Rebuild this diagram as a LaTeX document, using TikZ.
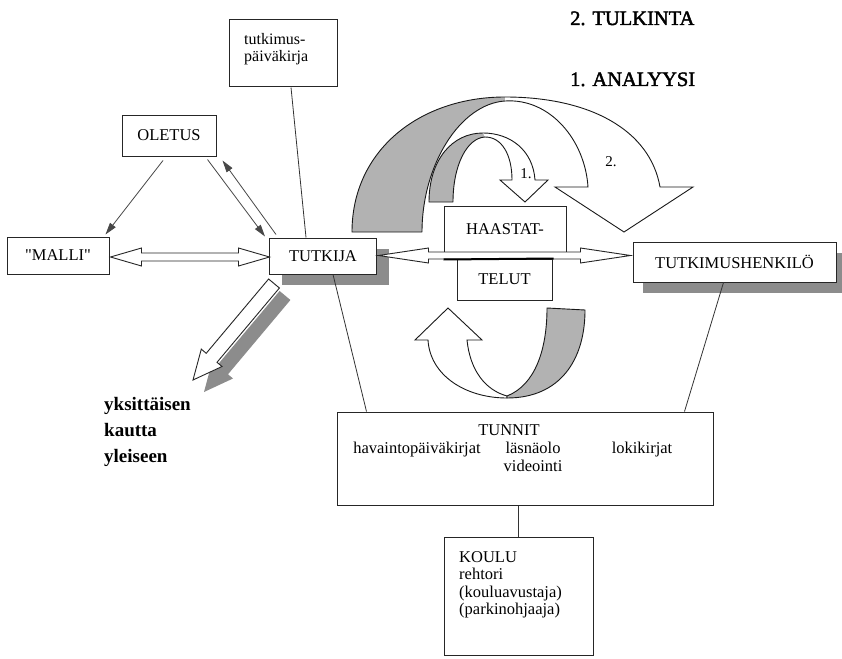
\documentclass[tikz,border=0pt]{standalone}
\usepackage{fontspec}
\setmainfont{Liberation Serif}
\newfontfamily\headfont[FakeBold=2]{Liberation Serif}
\newfontfamily\quotefont{Liberation Serif}
\usetikzlibrary{calc,arrows.meta,shadows}

\begin{document}
\begin{tikzpicture}[x=1pt,y=-1pt,
  every node/.style={inner sep=0pt, font=\fontsize{16.5}{19}\selectfont},
  box/.style={draw=black!85, line width=1pt, fill=white},
  boxshadow/.style={drop shadow={shadow xshift=#1, shadow yshift=-11pt, fill=black!45, opacity=1}},
  backside/.style={fill=black!30},
  darkside/.style={fill=black!45},
  outline/.style={draw=black!90, line width=0.9pt, line join=miter},
  hollow/.style={draw=black!85, line width=0.9pt, fill=white, line join=miter},
  link/.style={draw=black!80, line width=0.8pt},
  pointer/.style={draw=black!72, line width=0.8pt, -{Triangle[length=12pt,width=7pt]}},
  label/.style={font=\fontsize{15}{18}\selectfont}
]
\useasboundingbox (0,0) rectangle (842,658);
\fill[white] (0,0) rectangle (842,658);

% headings
\node[anchor=base west, font=\headfont\fontsize{20.5}{24}\selectfont] (tulkinta) at (570,25) {2. TULKINTA};
\node[anchor=base west, font=\headfont\fontsize{20.5}{24}\selectfont] (analyysi) at (570,86) {1. ANALYYSI};

% boxes
\node[box, minimum width=108, minimum height=67] (tpkbox) at (283,53.5) {};
\node[anchor=base west, align=left, font=\fontsize{16}{17}\selectfont] (tpk) at (244,62) {tutkimus-\\päiväkirja};
\node[box, minimum width=94, minimum height=41] (oletus) at (169,135.5) {OLETUS};
\node[box, minimum width=102, minimum height=37] (malli) at (58,255.5) {\quotefont"MALLI"};
\node[box, boxshadow=12pt, minimum width=107, minimum height=36] (tutkija) at (323,256) {TUTKIJA};
\node[box, minimum width=122, minimum height=47] (haastat) at (505,229.5) {HAASTAT-};
\node[box, minimum width=95, minimum height=41] (telut) at (504.5,279.5) {TELUT};
\node[box, boxshadow=10pt, minimum width=203, minimum height=40] (thenk) at (734.5,262) {TUTKIMUSHENKILÖ};
\node[box, minimum width=376, minimum height=93] (tunnit) at (525,458.5) {};
\node[box, minimum width=149, minimum height=118] (koulu) at (518.5,596) {};

% contents of the lower boxes
\node[anchor=base] (tunnitotsikko) at (509,435) {TUNNIT};
\node[anchor=base] (havainto) at (417,453) {havaintopäiväkirjat};
\node[anchor=base] (lasnaolo) at (533,453) {läsnäolo};
\node[anchor=base] (videointi) at (533,471) {videointi};
\node[anchor=base] (loki) at (642,453) {lokikirjat};
\node[anchor=base west, align=left, font=\fontsize{16.5}{17.5}\selectfont] (kouluteksti) at (459,614.5)
  {KOULU\\rehtori\\(kouluavustaja)\\(parkinohjaaja)};

% plain connecting lines
\draw[link] ($(tpkbox.south)+(8,0)$) -- ($(tutkija.north)+(-17,0)$);
\draw[link] ($(tutkija.south)+(10,0)$) -- ($(tunnit.north west)+(30,0)$);
\draw[link] ($(thenk.south)+(-11,0)$) -- ($(tunnit.north east)+(-29,0)$);
\draw[link] (koulu.north |- tunnit.south) -- (koulu.north);

% arrows around OLETUS
\draw[pointer] ($(oletus.south)+(-6,4)$) -- ($(malli.north east)+(-4,-2)$);
\draw[pointer] ($(oletus.south east)+(-9,3)$) -- ($(tutkija.north west)+(-4,-1)$);
\draw[pointer] ($(tutkija.north west)+(7,-3)$) -- ($(oletus.south east)+(6,4)$);

% double hollow arrows
\draw[hollow] ($(malli.east)+(1,1.5)$) -- ++(31,-9) -- ++(0,5) -- ++(97,0) -- ++(0,-5) -- ++(31,9)
  -- ++(-31,9) -- ++(0,-5) -- ++(-97,0) -- ++(0,5) -- cycle;
\draw[hollow] ($(tutkija.east)+(1.5,-0.5)$) -- ++(50,-7.5) -- ++(0,4) -- ++(152,0) -- ++(0,-4) -- ++(50,7.5)
  -- ++(-50,7.5) -- ++(0,-4) -- ++(-152,0) -- ++(0,4) -- cycle;
\draw[line width=2pt] ($(haastat.south west)+(0,6)$) -- ($(telut.north east)+(1,0)$);

% diagonal arrow with its shadow
\fill[darkside, shift={(11,12)}] (268.6,279) -- (279.4,288) -- (217,362.3) -- (222,366.5) -- (193,380)
  -- (201.3,349.1) -- (206.2,353.3) -- cycle;
\draw[hollow] (268.6,279) -- (279.4,288) -- (217,362.3) -- (222,366.5) -- (193,380)
  -- (201.3,349.1) -- (206.2,353.3) -- cycle;
\node[anchor=base west, align=left, font=\bfseries\fontsize{19}{26}\selectfont] (yks) at (104,462)
  {yksittäisen\\kautta\\yleiseen};

% large curved arrow (2.)
\fill[backside] (352,232) .. controls (352,150) and (420,97) .. (505,97) -- (505,101)
  .. controls (460,104) and (422,165) .. (422,232) -- cycle;
\fill[white] (505,97) .. controls (590,97) and (650,130) .. (660,187) -- (693,187) -- (624,232) -- (555,187)
  -- (588,187) .. controls (585,140) and (550,98) .. (505,101) -- cycle;
\draw[outline] (422,232) -- (352,232) .. controls (352,150) and (420,97) .. (505,97)
  .. controls (590,97) and (650,130) .. (660,187) -- (693,187) -- (624,232) -- (555,187) -- (588,187)
  .. controls (585,140) and (550,98) .. (505,101) .. controls (460,104) and (422,165) .. (422,232);

% small curved arrow (1.)
\fill[backside] (429,202) .. controls (429,160) and (452,133) .. (483,133) -- (485,137)
  .. controls (467,138) and (453,165) .. (453,202) -- cycle;
\fill[white] (483,133) .. controls (510,133) and (533,150) .. (535,180) -- (548,180) -- (525,202) -- (500,180)
  -- (512,180) .. controls (512,155) and (502,137) .. (485,137) -- cycle;
\draw[outline] (453,202) -- (429,202) .. controls (429,160) and (452,133) .. (483,133)
  .. controls (510,133) and (533,150) .. (535,180) -- (548,180) -- (525,202) -- (500,180) -- (512,180)
  .. controls (512,155) and (502,137) .. (485,137) .. controls (467,138) and (453,165) .. (453,202);
\node[label] (eka) at (526,174) {1.};
\node[label] (toka) at (611,162) {2.};

% U-shaped arrow below the interview boxes
\draw[outline, fill=white] (428,340) -- (415,340) -- (448,308) -- (482,340) -- (467,340)
  .. controls (470,370) and (485,390) .. (507,396) -- (507,398) .. controls (465,398) and (430,375) .. (428,340) -- cycle;
\draw[outline, backside] (507,396) .. controls (535,385) and (547,350) .. (547,308) -- (585,310)
  .. controls (585,360) and (560,398) .. (507,398) -- cycle;
\end{tikzpicture}
\end{document}
